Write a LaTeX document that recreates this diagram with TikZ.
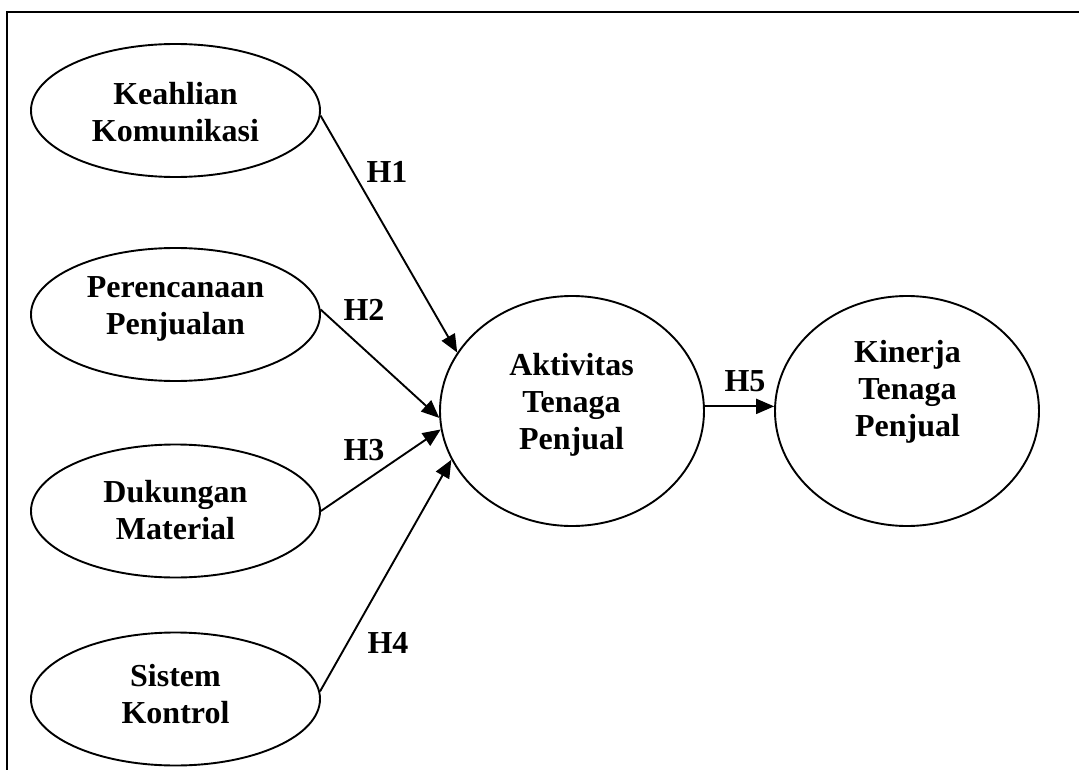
\documentclass[tikz,border=0pt]{standalone}
\usepackage{fontspec}
\setmainfont{Liberation Serif}
\usetikzlibrary{shapes.geometric,arrows.meta}
\begin{document}
\begin{tikzpicture}[x=1pt,y=-1pt,
  var/.style={draw, ellipse, line width=1.9pt, inner sep=0pt},
  small/.style={var, minimum width=289pt, minimum height=133pt},
  big/.style={var, minimum width=264pt, minimum height=230pt},
  lbl/.style={font=\fontsize{32}{37}\selectfont\bfseries, align=center, inner sep=0pt},
  hyp/.style={font=\fontsize{32}{37}\selectfont\bfseries, inner sep=0pt},
  link/.style={line width=1.9pt, -{Triangle[length=18pt,width=15pt]}}]
  \useasboundingbox (0,0) rectangle (1079,770);

  % open frame: top and left sides
  \draw[line width=2pt] (1079,12) -- (7,12) -- (7,770);

  % exogenous constructs
  \node[small] (kom) at (175.5,110.5) {};
  \node[lbl] (komt) at (175.5,112.5) {Keahlian\\Komunikasi};
  \node[small] (ren) at (175.5,314.5) {};
  \node[lbl] (rent) at (175.5,309) {Perencanaan\\Penjualan};
  \node[small] (duk) at (175.5,511) {};
  \node[lbl] (dukt) at (175.5,510) {Dukungan\\Material};
  \node[small] (sis) at (175.5,699) {};
  \node[lbl] (sist) at (175.5,694) {Sistem\\Kontrol};

  % mediating and outcome constructs
  \node[big] (akt) at (572,411) {};
  \node[lbl] (aktt) at (571.5,405) {Aktivitas\\Tenaga\\Penjual};
  \node[big] (kin) at (907,411) {};
  \node[lbl] (kint) at (907.5,392) {Kinerja\\Tenaga\\Penjual};

  % hypothesised paths
  \draw[link] (kom.-2) -- (akt.153);
  \draw[link] (ren.2) -- (akt.183);
  \draw[link] (duk.east) -- (akt.188);
  \draw[link] (sis.3) -- (akt.202);
  \draw[link] (akt.2) -- (kin.178);

  % hypothesis labels
  \node[hyp] (h1) at (387,171.5) {H1};
  \node[hyp] (h2) at (364,310) {H2};
  \node[hyp] (h3) at (364,450.5) {H3};
  \node[hyp] (h4) at (388,642.5) {H4};
  \node[hyp] (h5) at (745,381) {H5};
\end{tikzpicture}
\end{document}
